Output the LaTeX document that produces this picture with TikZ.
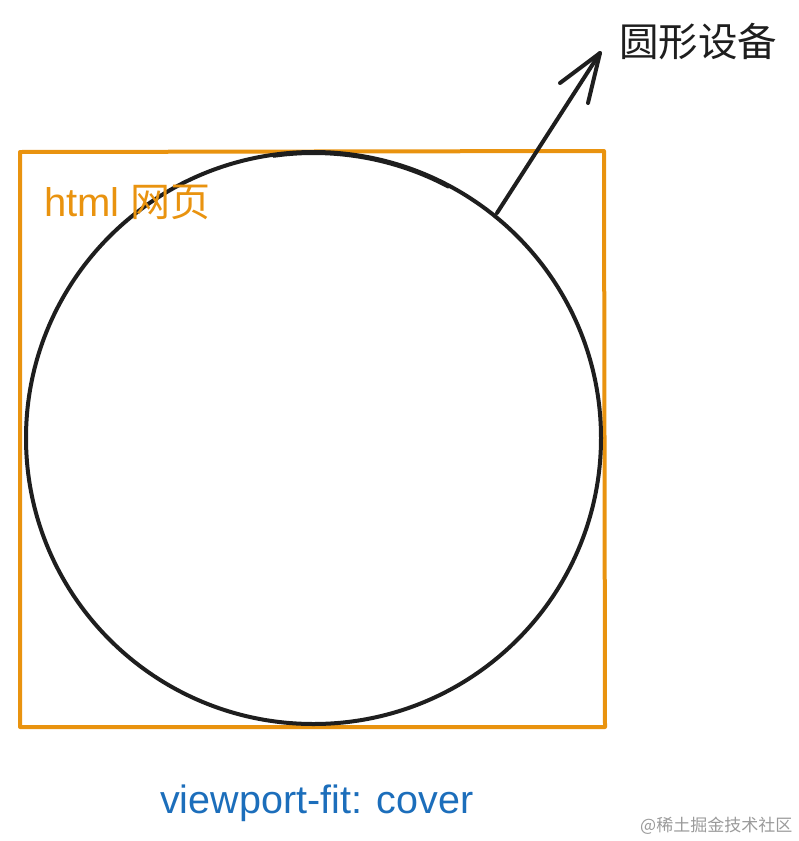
\documentclass[tikz,border=0pt]{standalone}
\usepackage{fontspec}
\setmainfont{Liberation Sans}
\newfontfamily\cjk{Noto Sans CJK SC}
\definecolor{pageorange}{HTML}{E9930F}
\definecolor{fitblue}{HTML}{1C6EBB}
\definecolor{inkblack}{HTML}{1E1E1E}
\definecolor{markgrey}{HTML}{9A9A9A}
\begin{document}
\begin{tikzpicture}[x=1pt,y=-1pt,
  pageline/.style={draw=pageorange,line width=4pt,line join=round},
  inkline/.style={draw=inkblack,line width=4pt,line cap=round},
  lbl/.style={inner sep=0pt,anchor=base west}]
\useasboundingbox (0,0) rectangle (799,841);
% html page rectangle
\draw[pageline] (20,152) -- (604,151) -- (605,727) -- (20,727) -- cycle;
% round device
\draw[inkline] (313.5,438) ellipse [x radius=287.5, y radius=286];
\draw[draw=inkblack,line width=2pt,line cap=round] (313.5,441) ++(-98:287) arc[start angle=-98,end angle=-62,x radius=287,y radius=287];
% labels
\node[lbl,text=pageorange,font=\fontsize{40}{44}\selectfont] (html) at (44,216) {html {\cjk 网页}};
\node[lbl,text=inkblack,font=\cjk\fontsize{39.5}{44}\selectfont] (dev) at (619,56) {圆形设备};
\node[lbl,text=fitblue,font=\fontsize{39.5}{44}\selectfont] (fit) at (160,813) {viewport-fit: cover};
\node[lbl,text=markgrey,font=\cjk\fontsize{17}{20}\selectfont] (mark) at (640,831) {@稀土掘金技术社区};
% arrow
\coordinate (start) at (497,213);
\coordinate (tip) at (600,53);
\draw[inkline] (start) -- (tip);
\draw[inkline,line join=round] (560,83) -- (tip) -- (588,103);
\end{tikzpicture}
\end{document}
